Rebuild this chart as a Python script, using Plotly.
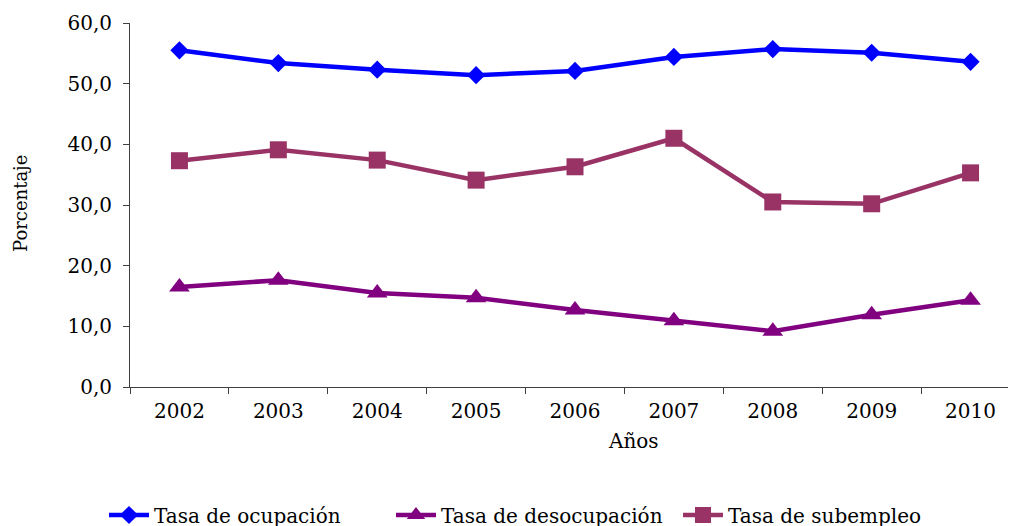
import plotly.graph_objects as go

years = ["2002", "2003", "2004", "2005", "2006", "2007", "2008", "2009", "2010"]
ocupacion = [55.5, 53.4, 52.3, 51.4, 52.1, 54.4, 55.7, 55.1, 53.6]
desocupacion = [16.5, 17.6, 15.5, 14.7, 12.7, 10.9, 9.2, 11.9, 14.3]
subempleo = [37.3, 39.1, 37.4, 34.1, 36.3, 41.0, 30.5, 30.2, 35.3]

FONT = "DejaVu Serif"
# the page body adds an 8px offset; compensate in margins
OFF = 8
L, T, B, R = 130 - OFF, 23 - OFF, 139 + OFF, 4
PW = 1016 - L - R

fig = go.Figure()
fig.add_trace(go.Scatter(x=years, y=ocupacion, name="Tasa de ocupación", mode="lines+markers",
                         line=dict(color="#0000FF", width=4.5),
                         marker=dict(symbol="diamond", size=14, color="#0000FF")))
fig.add_trace(go.Scatter(x=years, y=desocupacion, name="Tasa de desocupación", mode="lines+markers",
                         line=dict(color="#800080", width=4.5),
                         marker=dict(symbol="triangle-up", size=18, color="#800080")))
fig.add_trace(go.Scatter(x=years, y=subempleo, name="Tasa de subempleo", mode="lines+markers",
                         line=dict(color="#993366", width=4.5),
                         marker=dict(symbol="square", size=17, color="#993366")))

fig.update_layout(
    width=1016, height=526,
    margin=dict(l=L, r=R, t=T, b=B, autoexpand=False),
    plot_bgcolor="white", paper_bgcolor="white",
    separators=",.",
    font=dict(family=FONT, size=20, color="#000000"),
    showlegend=True,
    legend=dict(orientation="h", x=(126 - OFF - 22) / 1016, xref="container", xanchor="left",
                y=(526 - (515 - OFF)) / 526, yref="container", yanchor="middle",
                font=dict(family=FONT, size=20), itemwidth=40, entrywidth=232),
    xaxis=dict(type="category", range=[-0.5, 8.5], showgrid=False, zeroline=False,
               showline=True, linecolor="#404040", linewidth=1,
               ticks="outside", tickson="boundaries", ticklen=6, tickcolor="#404040",
               ticklabelstandoff=6,
               tickfont=dict(family=FONT, size=20)),
    yaxis=dict(range=[0, 60], dtick=10, tickformat=".1f", showgrid=False, zeroline=False,
               showline=True, linecolor="#404040", linewidth=1,
               ticks="outside", ticklen=6, tickcolor="#404040",
               ticklabelstandoff=7,
               tickfont=dict(family=FONT, size=20)),
)

fig.add_annotation(text="Años", x=(633 - 130) / PW, y=(387 - 441) / 364, xref="paper", yref="paper",
                   showarrow=False, xanchor="center", yanchor="middle",
                   font=dict(family=FONT, size=20))
fig.add_annotation(text="Porcentaje", x=(20 - 130) / PW, y=(387 - 204) / 364, xref="paper", yref="paper",
                   showarrow=False, textangle=-90, xanchor="center", yanchor="middle",
                   font=dict(family=FONT, size=18))

fig.write_html("out.html")
